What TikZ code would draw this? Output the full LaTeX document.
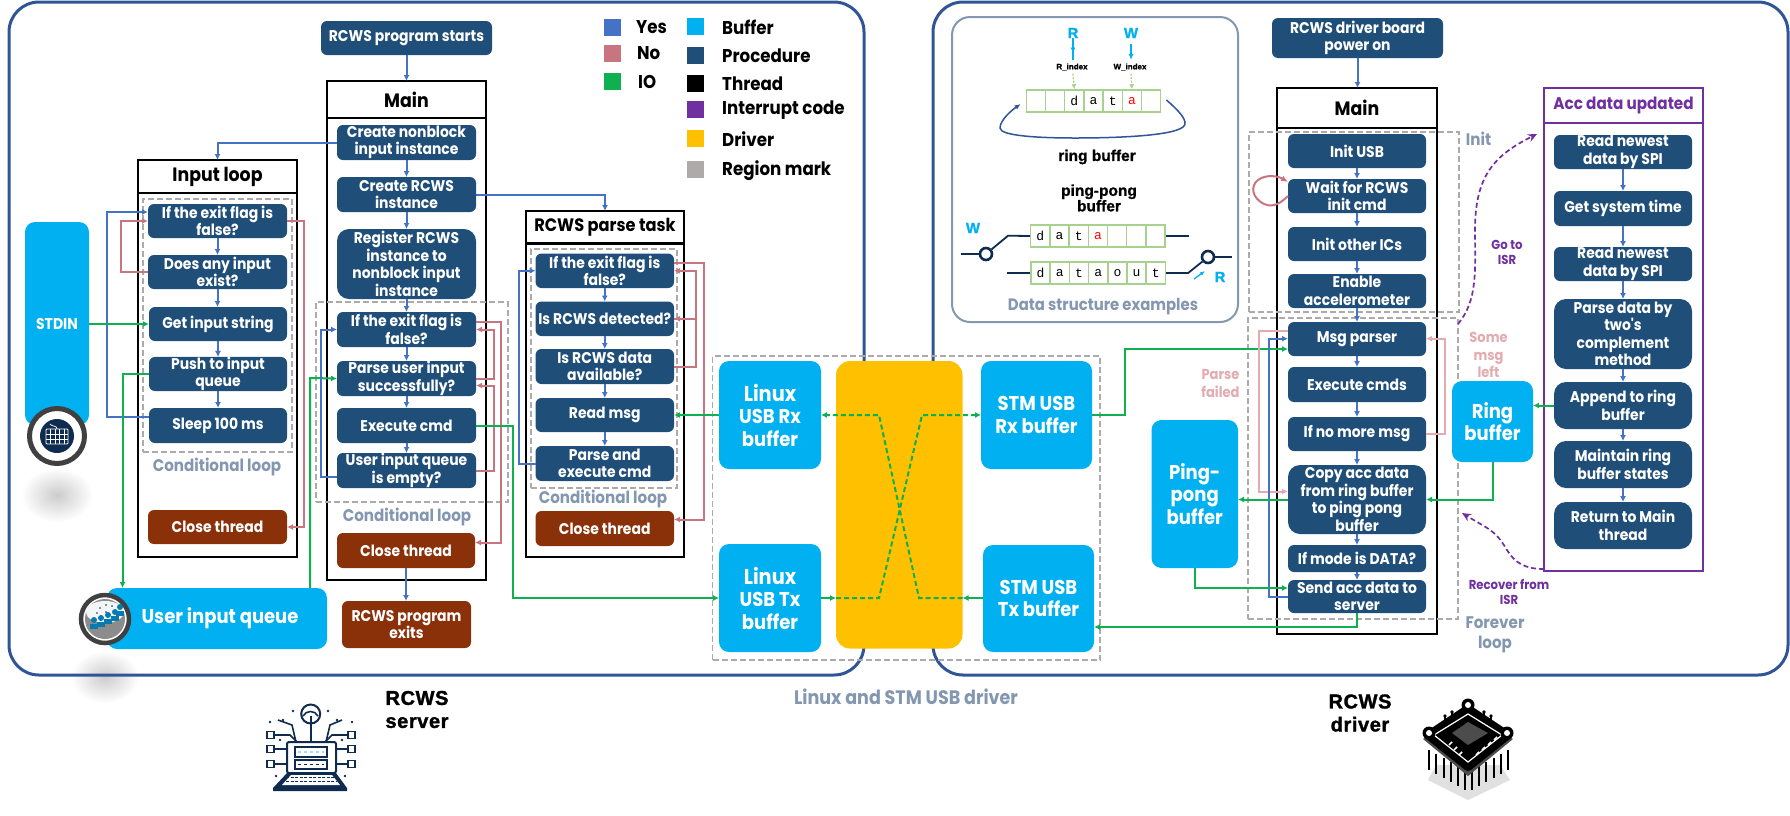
\documentclass[tikz,border=0pt]{standalone}
\usepackage{fontspec}
\usetikzlibrary{arrows.meta,calc,shapes.geometric}
\setmainfont{Lato}
\newfontfamily\fb{Poppins}[FakeStretch=0.9]
\newfontfamily\ab{Liberation Sans}[LetterSpace=3,BoldFeatures={FakeBold=1.5}]
\newfontfamily\ar{Liberation Sans}[BoldFeatures={FakeBold=1}]
\newfontfamily\mo{Liberation Mono}
\definecolor{procc}{HTML}{1F4E79}
\definecolor{buff}{HTML}{00B0F0}
\definecolor{drv}{HTML}{FFC000}
\definecolor{brn}{HTML}{8B3109}
\definecolor{yesc}{HTML}{4472C4}
\definecolor{noc}{HTML}{C9757F}
\definecolor{nol}{HTML}{E3ABB0}
\definecolor{ioc}{HTML}{0FB050}
\definecolor{regc}{HTML}{AEAAAA}
\definecolor{lab}{HTML}{8497B0}
\definecolor{purp}{HTML}{7030A0}
\definecolor{pan}{HTML}{2F5597}
\definecolor{cellg}{HTML}{A9D18E}
\definecolor{navy}{HTML}{0F2B50}
\tikzset{
 box/.style={rectangle,inner sep=0pt,outer sep=0pt,align=center,text=white},
 proc/.style={box,fill=procc,rounded corners=6pt,font=\fb\bfseries\fontsize{15.5}{17.5}\selectfont},
 procr/.style={proc,rounded corners=12pt},
 brown/.style={proc,fill=brn},
 buffer/.style={box,fill=buff,rounded corners=10pt,font=\fb\bfseries\fontsize{20}{22.5}\selectfont},
 driver/.style={box,fill=drv,rounded corners=14pt},
 thread/.style={rectangle,draw=black,line width=2.2pt,inner sep=0pt,outer sep=0pt},
 ttitle/.style={thread,fill=white,align=center,text=black,font=\fb\bfseries\fontsize{19.3}{20}\selectfont},
 ithread/.style={thread,draw=purp},
 ititle/.style={ttitle,draw=purp,text=purp,font=\fb\bfseries\fontsize{16.9}{20}\selectfont},
 region/.style={rectangle,draw=regc,line width=1.5pt,dash pattern=on 6pt off 3pt,inner sep=0pt},
 panel/.style={draw=pan,line width=3pt,rounded corners=30pt},
 lbl/.style={inner sep=0pt,align=center,text=lab,font=\fb\bfseries\fontsize{16.8}{20}\selectfont},
 nolbl/.style={lbl,text=nol,font=\fb\bfseries\fontsize{14.5}{17.5}\selectfont},
 purlbl/.style={lbl,text=purp,font=\fb\bfseries\fontsize{13}{15}\selectfont},
 leg/.style={inner sep=0pt,anchor=west,text=black,font=\fb\bfseries\fontsize{18.5}{20}\selectfont},
 heavy/.style={inner sep=0pt,align=center,text=black,font=\ab\bfseries\fontsize{20}{23}\selectfont},
 dsh/.style={inner sep=0pt,align=center,text=black,font=\ar\bfseries\fontsize{15.5}{15.5}\selectfont},
 idx/.style={inner sep=0pt,text=black,font=\ar\bfseries\fontsize{8}{8}\selectfont},
 rw/.style={inner sep=0pt,text=buff,font=\ar\bfseries\fontsize{15}{16}\selectfont},
 cell/.style={rectangle,draw=cellg,line width=1.5pt,fill=white,minimum width=19.2pt,minimum height=22pt,inner sep=0pt,font=\mo\fontsize{13}{14}\selectfont},
 tip/.style={-{Latex[length=6pt,width=6pt]}},
 yes/.style={draw=yesc,line width=2pt,tip},
 no/.style={draw=noc,line width=2pt,tip},
 nolight/.style={draw=nol,line width=2pt,tip},
 io/.style={draw=ioc,line width=2pt,tip},
 iod/.style={io,dash pattern=on 5pt off 3pt},
 isr/.style={draw=purp,line width=1.7pt,dash pattern=on 5pt off 3pt,-{Stealth[length=9pt,width=8pt]}},
 nv/.style={draw=navy,line width=1.8pt},
 sw/.style={circle,draw=navy,line width=2.6pt,fill=white,minimum size=12pt,inner sep=0pt},
 swatch/.style={rectangle,inner sep=0pt,minimum size=17pt},
 rwarrow/.style={-{Latex[length=6pt,width=5pt]},buff,line width=1.4pt},
 idarrow/.style={-{Latex[length=5pt,width=5pt]},cellg,line width=1.3pt,dash pattern=on 2pt off 1.5pt},
}
\newcommand{\pb}[6][proc]{%
 \pgfmathsetmacro\cxx{(#3+#5)/2}\pgfmathsetmacro\cyy{(#4+#6)/2}%
 \pgfmathsetmacro\wdd{#5-#3}\pgfmathsetmacro\htt{#6-#4}%
 \node[#1,minimum width=\wdd pt,minimum height=\htt pt] (#2) at (\cxx,\cyy)}
\newcommand{\vy}[2]{\draw[yes] (#1.south) -- (#1.south |- #2.north);}
\begin{document}
\begin{tikzpicture}[x=1pt,y=-1pt]
\useasboundingbox (0,0) rectangle (1790,815);
% soft shadows
\shade[inner color=black!20,outer color=white] (57,495) ellipse (36 and 27);
\shade[inner color=black!20,outer color=white] (105,677) ellipse (34 and 26);
% panels
\draw[panel] (9,2) rectangle (864,675);
\draw[panel] (933,2) rectangle (1788,675);
% ---------------- legend
\foreach \n/\yy/\cc/\t/\xt in {a/27.5/yesc/Yes/636,b/53.5/noc/No/637,c/81.5/ioc/IO/638}{
 \node[swatch,fill=\cc] (sw\n) at (612.5,\yy) {};
 \node[leg] (lg\n) at (\xt,\yy) {\t};}
\foreach \n/\yy/\cc/\t in {d/26/buff/Buffer,e/55/procc/Procedure,f/83/black/Thread,g/109.5/purp/Interrupt code,h/138.5/drv/Driver,i/169.5/regc/Region mark}{
 \node[swatch,fill=\cc] (sw\n) at (695.5,\yy) {};
 \node[leg] (lg\n) at (722,\yy+1) {\t};}
% ---------------- server: threads
\pb[thread]{tin}{138}{160}{297}{557}{};
\pb[ttitle]{tintitle}{138}{160}{297}{193}{Input loop};
\pb[thread]{tmain}{327}{81}{486}{580}{};
\pb[ttitle]{tmaintitle}{327}{81}{486}{118}{Main};
\pb[thread]{tpar}{526}{211}{684}{557}{};
\pb[ttitle]{tpartitle}{526}{211}{684}{243.5}{\fontsize{18}{20}\selectfont RCWS parse task};
% regions
\pb[region]{rin}{143}{199}{292}{452}{};
\pb[region]{rmain}{316}{302}{508}{502}{};
\pb[region]{rpar}{531}{249}{677}{488}{};
\pb[region]{rusb}{712.5}{356}{1100}{660}{};
% main
\pb{start}{321}{21}{492}{55}{RCWS program starts};
\pb{mcreate}{337}{125}{476}{160}{Create nonblock\\input instance};
\pb{mrcws}{337}{177}{476}{212}{Create RCWS\\instance};
\pb[procr]{mreg}{337}{229}{476}{299}{Register RCWS\\instance to\\nonblock input\\instance};
\pb{mexit}{337}{312}{476}{347}{If the exit flag is\\false?};
\pb{mparse}{337}{361}{476}{396}{Parse user input\\successfully?};
\pb{mexec}{337}{408}{476}{443}{Execute cmd};
\pb{mempty}{337}{453}{476}{488}{User input queue\\is empty?};
\pb[brown]{mclose}{337}{533}{475}{568}{Close thread};
\pb[brown]{mexits}{342}{601}{471}{648}{RCWS program\\exits};
\node[lbl] (lmain) at (407,517) {Conditional loop};
% input loop
\pb{iexit}{148}{204}{287}{238}{If the exit flag is\\false?};
\pb{iany}{148}{255}{287}{289}{Does any input\\exist?};
\pb{iget}{149}{307}{287}{341}{Get input string};
\pb{ipush}{149}{357}{287}{391}{Push to input\\queue};
\pb{isleep}{149}{408}{287}{443}{Sleep 100 ms};
\pb[brown]{iclose}{148}{510}{287}{544}{Close thread};
\node[lbl] (lin) at (217,467) {Conditional loop};
% parse task
\pb{pexit}{535.5}{253.5}{674}{288}{If the exit flag is\\false?};
\pb{pdet}{535.5}{301.5}{674}{336}{Is RCWS detected?};
\pb{pdata}{535.5}{349}{674}{384}{Is RCWS data\\available?};
\pb{pread}{535.5}{398}{674}{432}{Read msg};
\pb{pexec}{535.5}{446}{674}{481}{Parse and\\execute cmd};
\pb[brown]{pclose}{535.5}{511}{674}{546}{Close thread};
\node[lbl] (lpar) at (603,499) {Conditional loop};
% buffers server
\pb[buffer]{stdin}{25}{222}{89}{425}{\fontsize{15.6}{17}\selectfont STDIN};
\pb[buffer]{queue}{107}{588}{327}{649}{\fontsize{20}{24}\selectfont\hspace*{6pt}User input queue};
% icons: keyboard
\node[circle,draw=black!75,line width=5pt,fill=white,minimum size=55pt,inner sep=0pt] (ickey) at (57,436) {};
\fill[navy] (57,436) circle (17);
\draw[white,line width=.8pt,rounded corners=1pt] (46,429) rectangle (68,444);
\foreach \yy in {434,439}{\draw[white,line width=.7pt] (46,\yy) -- (68,\yy);}
\foreach \xx in {50.5,55,59.5,64}{\draw[white,line width=.7pt] (\xx,429) -- (\xx,444);}
\draw[white,line width=.7pt] (57,429) .. controls (57,425) and (52,427) .. (50,424);
% icons: queue
\node[circle,draw=black!75,line width=4.5pt,fill=white,minimum size=48pt,inner sep=0pt] (icq) at (105,619) {};
\fill[black!45] (105,619) circle (20);
\fill[white!90!lab] (105,612) ellipse (19 and 11);
\foreach \xx/\yy in {94/626,101/624,108/621,115/618,120/613}{
 \fill[buff!60!navy] (\xx,\yy-6) circle (3);
 \fill[buff!60!navy] (\xx-4,\yy+3) rectangle (\xx+4,\yy-2);}
\foreach \xx/\yy in {100/608,106/605,112/606,97/613,106/612}{\fill[navy] (\xx,\yy) circle (.9);}
% ---------------- usb
\pb[driver]{drv}{836}{361}{962.5}{648.5}{};
\pb[buffer]{lrx}{719}{361}{821}{469}{\fontsize{21.5}{22.5}\selectfont Linux\\USB Rx\\buffer};
\pb[buffer]{ltx}{719}{544}{821}{652}{\fontsize{21.5}{22.5}\selectfont Linux\\USB Tx\\buffer};
\pb[buffer]{srx}{981}{361}{1092}{469}{STM USB\\Rx buffer};
\pb[buffer]{stx}{983}{545}{1094}{652}{STM USB\\Tx buffer};
\node[lbl,font=\fb\bfseries\fontsize{19.5}{20}\selectfont] (lusb) at (906,697) {Linux and STM USB driver};
% ---------------- data structures
\draw[draw=lab,line width=2pt,rounded corners=18pt] (952,17) rectangle (1238,322);
\node[lbl,font=\fb\bfseries\fontsize{16.5}{20}\selectfont] (lds) at (1103,307) {Data structure examples};
\node[rw] (rr) at (1073,33) {R};
\node[rw] (rw) at (1131,33) {W};
\node[idx] (ridx) at (1072,67) {R\_index};
\node[idx] (widx) at (1130,67) {W\_index};
\foreach \c [count=\i] in {{},{},d,a,t,{\color{red}a},{}}{
 \node[cell] (ra\i) at (1026.3+19.2*\i-9.6,101) {\c};}
\foreach \c [count=\i] in {d,a,t,{\color{red}a},{},{},{}}{
 \node[cell] (pa\i) at (1030.7+19.2*\i-9.6,236) {\c};}
\foreach \c [count=\i] in {d,a,t,a,o,u,t}{
 \node[cell] (pb\i) at (1031+19.2*\i-9.6,273) {\c};}
\coordinate (arU) at (1073,60);
\coordinate (awD) at (1131,44);
\draw[rwarrow] (arU) -- (arU |- rr.south) ++(0,5);
\draw[rwarrow] (awD) -- (1131,60);
\draw[idarrow] (ridx.south) ++(1,3) -- (ra3.north);
\draw[idarrow] (widx.south) ++(1,3) -- (ra6.north);
\coordinate (ringEnd) at (1020.7,104);
\draw[-{Latex[length=6pt,width=5pt]},draw=pan,line width=1.5pt] (ra7.east) ++(5,-1) .. controls (1178,110) and (1190,122) .. (1183,127) .. controls (1172,136) and (1115,138) .. (1075,138) .. controls (1040,138) and (1000,136) .. (1000,128) .. controls (1000,120) and (1012,110) .. (ringEnd);
\node[dsh] (tring) at (1097,157) {ring buffer};
\node[dsh] (tping) at (1099,198) {ping-pong\\buffer};
\node[rw] (pw) at (973,228) {W};
\node[rw] (pr) at (1220,277) {R};
\node[sw] (s1) at (986,254) {};
\node[sw] (s2) at (1208,257) {};
\coordinate (s1l) at (961,254);
\coordinate (s2r) at (1232,257);
\draw[nv] (s1l) -- (s1);
\draw[nv] (s1) -- (1008,235.7) -- (pa1.west);
\draw[nv] (pa7.east) -- ++(23,0);
\draw[nv] (pb1.west) -- ++(-23,0);
\draw[nv] (pb7.east) -- ++(22,0) -- (s2);
\draw[nv] (s2) -- (s2r);
\draw[-{Latex[length=5pt,width=4pt]},buff,line width=1.3pt] (1194,279) -- (1205,271);
% ---------------- driver main
\pb{dpwr}{1272}{18}{1443}{58}{RCWS driver board\\power on};
\pb[thread]{dmain}{1277}{88}{1437}{634}{};
\pb[ttitle]{dmaintitle}{1277}{88}{1437}{128}{Main};
\pb[region]{rinit}{1249}{132}{1459}{312}{};
\pb[region]{rfor}{1248}{318}{1458}{619}{};
\pb{dusb}{1288}{134}{1426}{168}{Init USB};
\pb{dwait}{1288}{179}{1426}{213}{Wait for RCWS\\init cmd};
\pb{dics}{1288}{227}{1426}{261}{Init other ICs};
\pb{dacc}{1288}{274}{1426}{308}{Enable\\accelerometer};
\pb{dmsg}{1288}{322}{1426}{356}{Msg parser};
\pb{dexe}{1288}{367}{1426}{402}{Execute cmds};
\pb{dno}{1288}{417}{1426}{451}{If no more msg};
\pb[procr]{dcopy}{1288}{465}{1426}{534}{Copy acc data\\from ring buffer\\to ping pong\\buffer};
\pb{dmode}{1288}{545}{1426}{572}{If mode is DATA?};
\pb{dsend}{1288}{580}{1426}{613}{Send acc data to\\server};
\pb[buffer]{pingb}{1151.5}{420}{1238}{568}{Ping-\\pong\\buffer};
\pb[buffer]{ringb}{1452}{381}{1533}{462}{Ring\\buffer};
\node[lbl] (linit) at (1478.5,139) {Init};
\node[lbl] (lfor) at (1495,635) {Forever\\loop};
\node[nolbl] (lsome) at (1488.5,355) {Some\\msg\\left};
\node[nolbl] (lfail) at (1220.5,383.5) {Parse\\failed};
\node[purlbl] (lgo) at (1507,252.5) {Go to\\ISR};
\node[purlbl] (lrec) at (1509,591.5) {Recover from\\ISR};
% ---------------- interrupt
\pb[ithread]{acc}{1544}{88}{1703}{571}{};
\pb[ititle]{acct}{1544}{88}{1703}{123}{Acc data updated};
\pb{a1}{1554}{135}{1692}{169}{Read newest\\data by SPI};
\pb{a2}{1554}{191}{1692}{226}{Get system time};
\pb{a3}{1554}{247}{1692}{281}{Read newest\\data by SPI};
\pb[procr]{a4}{1554}{299}{1692}{369}{Parse data by\\two's\\complement\\method};
\pb[procr]{a5}{1554}{382}{1692}{429}{Append to ring\\buffer};
\pb[procr]{a6}{1554}{441}{1692}{488}{Maintain ring\\buffer states};
\pb[procr]{a7}{1554}{502}{1692}{549}{Return to Main\\thread};
% ---------------- connectors server
\vy{start}{tmaintitle}
\vy{mcreate}{mrcws}\vy{mrcws}{mreg}\vy{mreg}{mexit}\vy{mexit}{mparse}\vy{mparse}{mexec}\vy{mexec}{mempty}\vy{mclose}{mexits}
\vy{iexit}{iany}\vy{iany}{iget}\vy{iget}{ipush}\vy{ipush}{isleep}
\vy{pexit}{pdet}\vy{pdet}{pdata}\vy{pdata}{pread}\vy{pread}{pexec}
\draw[yes] (mcreate.west) -| (tintitle.north);
\draw[yes] (mrcws.east) -| (tpartitle.north);
\draw[yes] (isleep.west |- 0,417) -- ++(-42,0) |- ([yshift=9pt]iexit.west);
\draw[no] (iany.west) -- ++(-27,0) |- (iexit.west);
\draw[no] (iexit.east) -- ++(17,0) |- (iclose.east);
\draw[io] (stdin.east |- iget.west) -- (iget.west);
\draw[io] (ipush.west) -- ++(-26.5,0) -- (122.5,588);
\draw[io] (310,588) -- (310,378) -- (mparse.west);
\draw[yes] ([yshift=-6pt]mempty.west) -- ++(-16,0) |- (mexit.west);
\draw[no] ([yshift=8pt]mexit.east) -- ++(25,0) |- ([yshift=8pt]mclose.east);
\draw[no] (mparse.east) -- ++(18,0) |- (mexit.east);
\draw[no] (mempty.east) -- ++(18,0) |- ([yshift=-7pt]mparse.east);
\draw[io] (mexec.east) -- ++(37,0) |- (ltx.west);
\draw[yes] (pexec.west) -- ++(-16.5,0) |- (pexit.west);
\draw[no] ([yshift=8pt]pexit.east) -- ++(29.5,0) |- ([yshift=9pt]pclose.east);
\draw[no] (pdet.east) -- ++(22,0) |- (pexit.east);
\draw[no] (pdata.east) -- ++(22,0) |- (pdet.east);
\draw[io] (lrx.west |- pread.east) -- (pread.east);
% usb
\draw[io] (ltx.east) -- (drv.west |- ltx.east);
\draw[iod] (drv.west |- ltx.east) -- (879,598) -- (922,415) -- (srx.west |- 0,415);
\draw[io] (stx.west |- 0,598) -- (drv.east |- 0,598);
\draw[iod] (drv.east |- 0,598) -- (919,598) -- (879,415) -- (lrx.east);
\draw[io] (srx.east) -- (1124.5,415) |- (dmsg.west |- 0,349);
\draw[io] (dsend.south) -- ++(0,14) -- (stx.east |- 0,627);
% driver
\draw[yes] (dpwr.south) -- (dpwr.south |- dmaintitle.north);
\vy{dusb}{dwait}\vy{dwait}{dics}\vy{dics}{dacc}\vy{dacc}{dmsg}\vy{dmsg}{dexe}\vy{dexe}{dno}\vy{dno}{dcopy}\vy{dcopy}{dmode}\vy{dmode}{dsend}
\draw[no,-{Latex[length=7pt,width=6pt]}] (1288,196) .. controls (1278,206) and (1270,207) .. (1264,204) .. controls (1252,198) and (1250,186) .. (1258,180) .. controls (1266,174) and (1278,176) .. (dwait.west |- 0,182);
\draw[nolight] ([yshift=8.5pt]dmsg.west) -- (1259,330.5) |- (dcopy.west |- 0,491.5);
\draw[yes] (dsend.west) -- ++(-19,0) |- (dmsg.west |- 0,338.7);
\draw[nolight] (dno.east) -- (1445,434) |- (dmsg.east |- 0,338.7);
\draw[io] (dcopy.west) -- (pingb.east |- dcopy.west);
\draw[io] (pingb.south) |- (dsend.west |- 0,588);
\draw[io] (ringb.south) |- (dcopy.east);
\draw[io] (a5.west) -- (ringb.east |- a5.west);
\draw[isr] (1458,324) .. controls (1478,300) and (1475,270) .. (1475,230) .. controls (1475,175) and (1495,155) .. (1537,134);
\draw[isr] (acc.south west |- 0,569) .. controls (1525,569) and (1515,563) .. (1507,550) .. controls (1495,530) and (1490,530) .. (1462,513);
\vy{a1}{a2}\vy{a2}{a3}\vy{a3}{a4}\vy{a4}{a5}\vy{a5}{a6}\vy{a6}{a7}
% ---------------- captions
\node[heavy] (tsrv) at (417,709.5) {RCWS\\server};
\node[heavy] (tdrv) at (1360,713) {RCWS\\driver};
% ---------------- server icon
\begin{scope}[navy,line width=1.6pt]
\draw[line width=2pt] (310.7,714) circle (9.5);
\draw (303,716) .. controls (306,710) and (315,710) .. (318,716);
\draw (310.7,716) -- (310.7,741);
\draw[line width=2pt,rounded corners=2pt] (287,742) rectangle (336,773);
\draw (295,747) rectangle (327,757);
\draw (295,760) rectangle (327,769);
\draw[white!60!buff,line width=1.5pt,dashed] (298,752) -- (324,752);
\draw[line width=1pt,dashed] (298,764.5) -- (324,764.5);
\fill (287,773) -- (336,773) -- (347,788) -- (347,791) -- (273,791) -- (273,788) -- cycle;
\fill[white] (291,775) -- (332,775) -- (340,785) -- (282,785) -- cycle;
\foreach \yy in {777.5,781}{\draw[line width=1pt,dash pattern=on 3pt off 1.5pt] (286,\yy) -- (337,\yy);}
\foreach \yy in {735,749,764}{\draw (267,\yy-3.5) rectangle (274,\yy+3.5); \draw (348,\yy-3.5) rectangle (355,\yy+3.5);}
\draw (274,735) -- (290,735) -- (297,742);
\draw (348,735) -- (332,735) -- (325,742);
\draw (274,749) -- (287,749);\draw (348,749) -- (336,749);
\draw (274,764) -- (287,764);\draw (348,764) -- (336,764);
\draw (278,720) -- (292,725) -- (296,742);
\draw (342,720) -- (330,725) -- (326,742);
\foreach \xx/\yy in {293/711,283/720,328/711,337/720,270/722,352/722,276/776,345/776,280/740,342/740}{\fill (\xx,\yy) circle (1.3);}
\end{scope}
% ---------------- chip icon
\fill[black!12!white] (1428,780) -- (1468,800) -- (1510,780) -- (1500,765) -- (1436,765) -- cycle;
\foreach \xx/\yy in {1429/770,1436/774,1444/778,1451/782,1458/786,1465/790,1472/790,1479/786,1486/782,1494/778,1501/774,1508/770}{
 \draw[black,line width=1.8pt] (\xx,\yy-20) -- (\xx,\yy);}
\fill[black!70] (1423,739) -- (1468,776) -- (1513,739) -- (1468,712) -- cycle;
\fill[black,draw=black,line width=2pt,rounded corners=3pt] (1423,735) -- (1468,705) -- (1513,735) -- (1468,771) -- cycle;
\draw[white,line width=1.2pt] (1468,714) -- (1502,735) -- (1468,762) -- (1434,735) -- cycle;
\fill[black!70] (1468,722) -- (1488,733) -- (1468,745) -- (1452,733) -- cycle;
\foreach \xx/\yy in {1468/705,1429/733,1507/733}{\fill[black] (\xx,\yy) circle (6.5);\fill[white] (\xx,\yy) circle (3);}
\foreach \xx/\yy in {1449/745,1454/750,1459/755,1476/755,1482/750,1488/745,1494/740}{\draw[white,line width=1.5pt] (\xx,\yy) -- (\xx+3,\yy-3);}
\foreach \xx/\yy in {1452/712,1445/716,1484/712,1491/716}{\draw[black,line width=1.6pt] (\xx,\yy+6) -- (\xx,\yy);\fill[black] (\xx,\yy) circle (1.8);}
\end{tikzpicture}
\end{document}
